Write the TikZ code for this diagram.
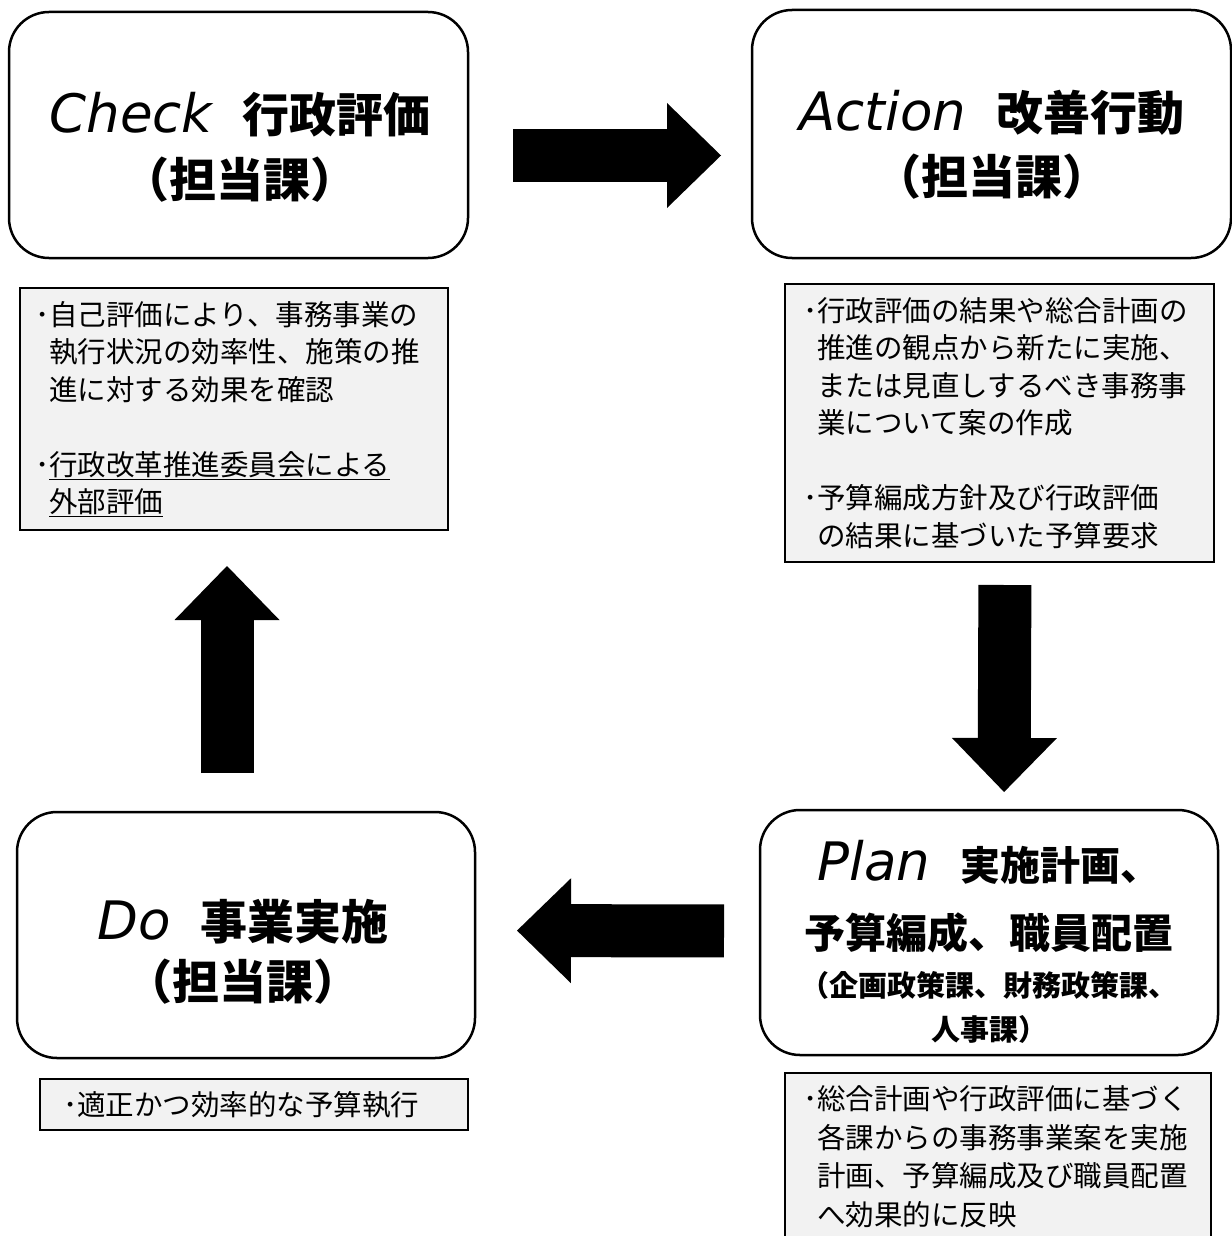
\documentclass[tikz,border=0pt]{standalone}
\usepackage{fontspec}
\setmainfont{Noto Sans CJK JP}
\newfontfamily\latinfont{DejaVu Sans}
\usetikzlibrary{arrows.meta}

\definecolor{notegray}{RGB}{242,242,242}
\newcommand{\bul}{･}
\newcommand{\ind}{\phantom{･}}
\newcommand{\pdca}[1]{{\latinfont\mdseries\itshape\fontsize{53}{65}\selectfont #1}\hspace{30pt}}

\begin{document}
\begin{tikzpicture}[x=1pt, y=-1pt,
    stage/.style={draw, line width=2.5pt, rounded corners=40pt, inner sep=0pt, outer sep=0pt},
    title/.style={text width=450pt, align=center, inner sep=0pt, font=\bfseries},
    note/.style={draw, line width=1.5pt, fill=notegray, align=left, inner ysep=0pt, outer sep=0pt,
                 font=\fontsize{28.5}{38.5}\selectfont},
    blockarrow/.style={line width=53pt, -{Triangle[length=54pt, width=105pt, line width=0pt]}}]
    \useasboundingbox (0,0) rectangle (1231,1236);

    % the four stages
    \node[stage, minimum width=479pt, minimum height=248pt] (action) at (991.5,134) {};
    \node[stage, minimum width=459pt, minimum height=246pt] (check) at (238.5,135) {};
    \node[stage, minimum width=458pt, minimum height=245pt] (plan) at (989,932.5) {};
    \node[stage, minimum width=458pt, minimum height=246pt] (do) at (246,935) {};

    \node[title] (checktitle) at (240,147.5) {\fontsize{47}{65}\selectfont\pdca{Check}行政評価\par （担当課）\par};
    \node[title] (actiontitle) at (992,145) {\fontsize{47}{64}\selectfont\pdca{Action}改善行動\par （担当課）\par};
    \node[title] (dotitle) at (243,952) {\fontsize{47}{60}\selectfont\pdca{Do}事業実施\par （担当課）\par};
    \node[title] (plantitle) at (989,942) {\fontsize{40}{68}\selectfont\pdca{Plan}実施計画、\par
        \fontsize{41}{68}\selectfont 予算編成、職員配置\par
        \fontsize{29}{48}\selectfont （企画政策課、財務政策課、\par
        \fontsize{29}{44}\selectfont 人事課）\par};

    % notes below the stages
    \node[note, minimum width=428pt, minimum height=242pt, text width=398pt, inner xsep=15pt,
          font=\fontsize{28.5}{37.5}\selectfont] (chknote) at (234,409)
        {\bul 自己評価により、事務事業の\\ \ind 執行状況の効率性、施策の推\\ \ind 進に対する効果を確認\\[37.5pt]
         \bul\underline{行政改革推進委員会による}\\ \ind\underline{外部評価}};
    \node[note, minimum width=429pt, minimum height=278pt, text width=393pt, inner xsep=18pt,
          font=\fontsize{28.5}{37.5}\selectfont] (actnote) at (999.5,423)
        {\bul 行政評価の結果や総合計画の\\ \ind 推進の観点から新たに実施、\\ \ind または見直しするべき事務事\\ \ind 業について案の作成\\[37.5pt]
         \bul 予算編成方針及び行政評価\\ \ind の結果に基づいた予算要求};
    \node[note, minimum width=426pt, minimum height=167pt, text width=390pt, inner xsep=18pt] (plannote) at (998,1156.5)
        {\bul 総合計画や行政評価に基づく\\ \ind 各課からの事務事業案を実施\\ \ind 計画、予算編成及び職員配置\\ \ind へ効果的に反映};
    \node[note, minimum width=428pt, minimum height=51pt, text width=382pt, inner xsep=23pt] (donote) at (254,1104.5)
        {\bul 適正かつ効率的な予算執行};

    % cycle arrows
    \draw[blockarrow, shorten <=45pt, shorten >=31pt] ([yshift=-20.5pt]check.east) -- ([yshift=-21.5pt]action.west);
    \draw[blockarrow, shorten <=23pt, shorten >=18pt] ([xshift=5.5pt]actnote.south) -- ([xshift=15pt]plan.north);
    \draw[blockarrow, shorten <=36pt, shorten >=42pt] ([yshift=1.5pt]plan.west) -- ([yshift=4.5pt]do.east);
    \draw[blockarrow, shorten <=39pt, shorten >=36pt] ([xshift=-19pt]do.north) -- ([xshift=-7pt]chknote.south);
\end{tikzpicture}
\end{document}
